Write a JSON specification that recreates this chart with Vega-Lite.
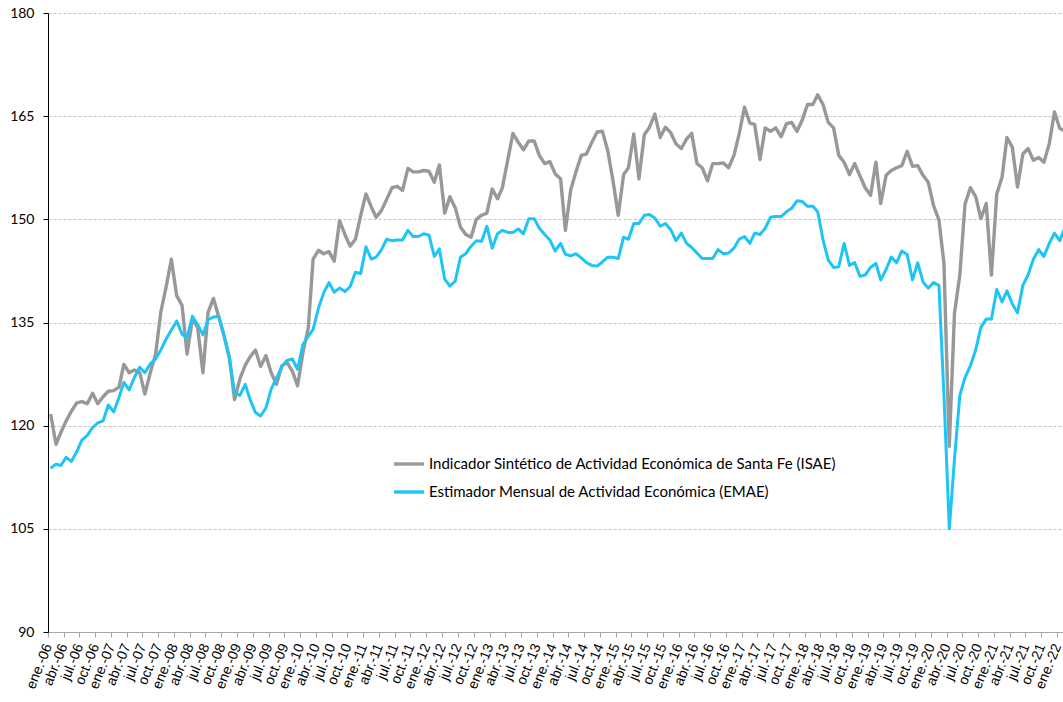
{
  "$schema": "https://vega.github.io/schema/vega-lite/v6.json",
  "width": 1015,
  "height": 619,
  "autosize": {"type": "none"},
  "padding": {"left": 48, "top": 13, "right": 0, "bottom": 70},
  "background": "#ffffff",
  "config": {"view": {"stroke": null}},
  "data": {"values": [
    {"fecha":"2006-01","isae":121.7,"emae":113.8},{"fecha":"2006-02","isae":117.3,"emae":114.4},{"fecha":"2006-03","isae":119.0,"emae":114.2},{"fecha":"2006-04","isae":120.7,"emae":115.4},{"fecha":"2006-05","isae":122.1,"emae":114.8},{"fecha":"2006-06","isae":123.3,"emae":116.2},{"fecha":"2006-07","isae":123.5,"emae":117.9},{"fecha":"2006-08","isae":123.2,"emae":118.6},{"fecha":"2006-09","isae":124.7,"emae":119.7},{"fecha":"2006-10","isae":123.2,"emae":120.4},{"fecha":"2006-11","isae":124.2,"emae":120.7},{"fecha":"2006-12","isae":125.0,"emae":123.0},
    {"fecha":"2007-01","isae":125.1,"emae":122.0},{"fecha":"2007-02","isae":125.6,"emae":124.1},{"fecha":"2007-03","isae":128.9,"emae":126.3},{"fecha":"2007-04","isae":127.7,"emae":125.2},{"fecha":"2007-05","isae":128.1,"emae":127.0},{"fecha":"2007-06","isae":127.7,"emae":128.5},{"fecha":"2007-07","isae":124.6,"emae":127.7},{"fecha":"2007-08","isae":127.7,"emae":129.0},{"fecha":"2007-09","isae":130.4,"emae":129.7},{"fecha":"2007-10","isae":136.5,"emae":131.0},{"fecha":"2007-11","isae":140.2,"emae":132.6},{"fecha":"2007-12","isae":144.2,"emae":133.9},
    {"fecha":"2008-01","isae":138.9,"emae":135.2},{"fecha":"2008-02","isae":137.5,"emae":133.3},{"fecha":"2008-03","isae":130.4,"emae":132.8},{"fecha":"2008-04","isae":135.5,"emae":135.9},{"fecha":"2008-05","isae":134.3,"emae":134.7},{"fecha":"2008-06","isae":127.7,"emae":133.2},{"fecha":"2008-07","isae":136.5,"emae":135.4},{"fecha":"2008-08","isae":138.5,"emae":135.8},{"fecha":"2008-09","isae":135.8,"emae":135.9},{"fecha":"2008-10","isae":133.1,"emae":133.1},{"fecha":"2008-11","isae":129.9,"emae":129.9},{"fecha":"2008-12","isae":123.8,"emae":124.8},
    {"fecha":"2009-01","isae":126.8,"emae":124.4},{"fecha":"2009-02","isae":128.8,"emae":126.0},{"fecha":"2009-03","isae":130.0,"emae":123.8},{"fecha":"2009-04","isae":131.0,"emae":121.9},{"fecha":"2009-05","isae":128.6,"emae":121.4},{"fecha":"2009-06","isae":130.2,"emae":122.6},{"fecha":"2009-07","isae":127.7,"emae":125.3},{"fecha":"2009-08","isae":126.0,"emae":126.9},{"fecha":"2009-09","isae":128.7,"emae":128.6},{"fecha":"2009-10","isae":129.2,"emae":129.5},{"fecha":"2009-11","isae":127.9,"emae":129.7},{"fecha":"2009-12","isae":125.8,"emae":128.2},
    {"fecha":"2010-01","isae":130.6,"emae":131.8},{"fecha":"2010-02","isae":134.2,"emae":133.0},{"fecha":"2010-03","isae":144.2,"emae":134.0},{"fecha":"2010-04","isae":145.5,"emae":137.1},{"fecha":"2010-05","isae":145.0,"emae":139.3},{"fecha":"2010-06","isae":145.3,"emae":140.8},{"fecha":"2010-07","isae":143.9,"emae":139.4},{"fecha":"2010-08","isae":149.8,"emae":140.0},{"fecha":"2010-09","isae":147.8,"emae":139.5},{"fecha":"2010-10","isae":146.1,"emae":140.2},{"fecha":"2010-11","isae":147.1,"emae":142.3},{"fecha":"2010-12","isae":150.5,"emae":142.1},
    {"fecha":"2011-01","isae":153.7,"emae":146.0},{"fecha":"2011-02","isae":151.8,"emae":144.2},{"fecha":"2011-03","isae":150.3,"emae":144.5},{"fecha":"2011-04","isae":151.3,"emae":145.6},{"fecha":"2011-05","isae":152.9,"emae":147.1},{"fecha":"2011-06","isae":154.6,"emae":146.9},{"fecha":"2011-07","isae":154.8,"emae":147.0},{"fecha":"2011-08","isae":154.2,"emae":147.0},{"fecha":"2011-09","isae":157.4,"emae":148.4},{"fecha":"2011-10","isae":156.9,"emae":147.5},{"fecha":"2011-11","isae":156.9,"emae":147.5},{"fecha":"2011-12","isae":157.1,"emae":147.9},
    {"fecha":"2012-01","isae":157.0,"emae":147.7},{"fecha":"2012-02","isae":155.4,"emae":144.6},{"fecha":"2012-03","isae":157.9,"emae":145.7},{"fecha":"2012-04","isae":150.9,"emae":141.3},{"fecha":"2012-05","isae":153.3,"emae":140.3},{"fecha":"2012-06","isae":151.7,"emae":141.0},{"fecha":"2012-07","isae":148.9,"emae":144.5},{"fecha":"2012-08","isae":147.8,"emae":145.0},{"fecha":"2012-09","isae":147.4,"emae":146.1},{"fecha":"2012-10","isae":150.0,"emae":146.9},{"fecha":"2012-11","isae":150.6,"emae":146.8},{"fecha":"2012-12","isae":150.9,"emae":149.0},
    {"fecha":"2013-01","isae":154.4,"emae":145.8},{"fecha":"2013-02","isae":153.0,"emae":147.9},{"fecha":"2013-03","isae":154.6,"emae":148.4},{"fecha":"2013-04","isae":158.6,"emae":148.1},{"fecha":"2013-05","isae":162.5,"emae":148.1},{"fecha":"2013-06","isae":161.2,"emae":148.6},{"fecha":"2013-07","isae":160.1,"emae":147.9},{"fecha":"2013-08","isae":161.4,"emae":150.1},{"fecha":"2013-09","isae":161.4,"emae":150.1},{"fecha":"2013-10","isae":159.3,"emae":148.7},{"fecha":"2013-11","isae":158.1,"emae":147.8},{"fecha":"2013-12","isae":158.4,"emae":147.0},
    {"fecha":"2014-01","isae":156.6,"emae":145.4},{"fecha":"2014-02","isae":155.9,"emae":146.5},{"fecha":"2014-03","isae":148.4,"emae":144.9},{"fecha":"2014-04","isae":154.3,"emae":144.7},{"fecha":"2014-05","isae":156.9,"emae":145.0},{"fecha":"2014-06","isae":159.3,"emae":144.4},{"fecha":"2014-07","isae":159.5,"emae":143.7},{"fecha":"2014-08","isae":161.2,"emae":143.3},{"fecha":"2014-09","isae":162.7,"emae":143.2},{"fecha":"2014-10","isae":162.8,"emae":143.8},{"fecha":"2014-11","isae":160.0,"emae":144.5},{"fecha":"2014-12","isae":155.7,"emae":144.5},
    {"fecha":"2015-01","isae":150.6,"emae":144.3},{"fecha":"2015-02","isae":156.5,"emae":147.4},{"fecha":"2015-03","isae":157.5,"emae":147.1},{"fecha":"2015-04","isae":162.4,"emae":149.4},{"fecha":"2015-05","isae":155.9,"emae":149.4},{"fecha":"2015-06","isae":162.3,"emae":150.6},{"fecha":"2015-07","isae":163.4,"emae":150.7},{"fecha":"2015-08","isae":165.3,"emae":150.2},{"fecha":"2015-09","isae":161.9,"emae":149.0},{"fecha":"2015-10","isae":163.4,"emae":149.4},{"fecha":"2015-11","isae":162.6,"emae":148.5},{"fecha":"2015-12","isae":161.0,"emae":146.9},
    {"fecha":"2016-01","isae":160.3,"emae":148.0},{"fecha":"2016-02","isae":161.7,"emae":146.5},{"fecha":"2016-03","isae":162.5,"emae":145.9},{"fecha":"2016-04","isae":158.1,"emae":145.1},{"fecha":"2016-05","isae":157.5,"emae":144.3},{"fecha":"2016-06","isae":155.6,"emae":144.3},{"fecha":"2016-07","isae":158.1,"emae":144.3},{"fecha":"2016-08","isae":158.1,"emae":145.6},{"fecha":"2016-09","isae":158.2,"emae":145.0},{"fecha":"2016-10","isae":157.5,"emae":145.1},{"fecha":"2016-11","isae":159.3,"emae":145.8},{"fecha":"2016-12","isae":162.4,"emae":147.1},
    {"fecha":"2017-01","isae":166.3,"emae":147.5},{"fecha":"2017-02","isae":164.0,"emae":146.5},{"fecha":"2017-03","isae":163.8,"emae":148.0},{"fecha":"2017-04","isae":158.7,"emae":147.8},{"fecha":"2017-05","isae":163.3,"emae":148.7},{"fecha":"2017-06","isae":162.8,"emae":150.3},{"fecha":"2017-07","isae":163.3,"emae":150.4},{"fecha":"2017-08","isae":162.0,"emae":150.4},{"fecha":"2017-09","isae":163.9,"emae":151.1},{"fecha":"2017-10","isae":164.1,"emae":151.6},{"fecha":"2017-11","isae":162.8,"emae":152.7},{"fecha":"2017-12","isae":164.4,"emae":152.6},
    {"fecha":"2018-01","isae":166.7,"emae":151.9},{"fecha":"2018-02","isae":166.7,"emae":151.9},{"fecha":"2018-03","isae":168.1,"emae":151.1},{"fecha":"2018-04","isae":166.7,"emae":147.0},{"fecha":"2018-05","isae":164.1,"emae":144.1},{"fecha":"2018-06","isae":163.3,"emae":143.0},{"fecha":"2018-07","isae":159.3,"emae":143.1},{"fecha":"2018-08","isae":158.3,"emae":146.5},{"fecha":"2018-09","isae":156.5,"emae":143.3},{"fecha":"2018-10","isae":158.1,"emae":143.7},{"fecha":"2018-11","isae":156.3,"emae":141.7},{"fecha":"2018-12","isae":154.6,"emae":141.9},
    {"fecha":"2019-01","isae":153.5,"emae":143.0},{"fecha":"2019-02","isae":158.3,"emae":143.6},{"fecha":"2019-03","isae":152.3,"emae":141.2},{"fecha":"2019-04","isae":156.4,"emae":142.7},{"fecha":"2019-05","isae":157.1,"emae":144.5},{"fecha":"2019-06","isae":157.5,"emae":143.7},{"fecha":"2019-07","isae":157.8,"emae":145.4},{"fecha":"2019-08","isae":159.9,"emae":144.9},{"fecha":"2019-09","isae":157.7,"emae":141.2},{"fecha":"2019-10","isae":157.8,"emae":143.7},{"fecha":"2019-11","isae":156.4,"emae":140.9},{"fecha":"2019-12","isae":155.4,"emae":140.0},
    {"fecha":"2020-01","isae":152.0,"emae":140.8},{"fecha":"2020-02","isae":149.9,"emae":140.4},{"fecha":"2020-03","isae":143.6,"emae":124.5},{"fecha":"2020-04","isae":117.0,"emae":105.0},{"fecha":"2020-05","isae":136.3,"emae":115.1},{"fecha":"2020-06","isae":141.9,"emae":124.4},{"fecha":"2020-07","isae":152.2,"emae":127.0},{"fecha":"2020-08","isae":154.6,"emae":128.7},{"fecha":"2020-09","isae":153.3,"emae":131.0},{"fecha":"2020-10","isae":150.1,"emae":134.3},{"fecha":"2020-11","isae":152.3,"emae":135.5},{"fecha":"2020-12","isae":141.9,"emae":135.5},
    {"fecha":"2021-01","isae":153.7,"emae":139.8},{"fecha":"2021-02","isae":156.2,"emae":138.0},{"fecha":"2021-03","isae":161.9,"emae":139.6},{"fecha":"2021-04","isae":160.5,"emae":137.7},{"fecha":"2021-05","isae":154.7,"emae":136.4},{"fecha":"2021-06","isae":159.5,"emae":140.4},{"fecha":"2021-07","isae":160.3,"emae":141.9},{"fecha":"2021-08","isae":158.6,"emae":144.2},{"fecha":"2021-09","isae":159.0,"emae":145.6},{"fecha":"2021-10","isae":158.3,"emae":144.6},{"fecha":"2021-11","isae":161.0,"emae":146.5},{"fecha":"2021-12","isae":165.6,"emae":148.0},
    {"fecha":"2022-01","isae":163.2,"emae":146.9},{"fecha":"2022-02","isae":162.8,"emae":148.9}
  ]},
  "encoding": {
    "x": {
      "field": "fecha",
      "type": "temporal",
      "scale": {
        "type": "utc",
        "domain": [
          {"year": 2005, "month": 12, "date": 16, "hours": 18, "utc": true},
          {"year": 2022, "month": 1, "date": 19, "hours": 12, "utc": true}
        ]
      },
      "axis": {
        "title": null,
        "grid": false,
        "tickCount": {"interval": "month", "step": 3},
        "labelExpr": "['ene.','feb.','mar.','abr.','may.','jun.','jul.','ago.','sep.','oct.','nov.','dic.'][utcmonth(datum.value)] + '-' + utcFormat(datum.value, '%y')",
        "labelAngle": -68,
        "labelAlign": "right",
        "labelBaseline": "middle",
        "labelFont": "Liberation Sans",
        "labelFontSize": 14,
        "labelColor": "#000000",
        "labelOverlap": false,
        "labelFlush": false,
        "labelPadding": 7,
        "tickOffset": -2.63,
        "tickSize": 5,
        "tickColor": "#a6a6a6",
        "domainColor": "#a6a6a6",
        "domainWidth": 1
      }
    }
  },
  "layer": [
    {
      "mark": {"type": "line", "strokeWidth": 3.4, "strokeJoin": "round", "clip": true},
      "encoding": {
        "y": {
          "field": "isae",
          "type": "quantitative",
          "scale": {"domain": [90, 180], "nice": false, "zero": false},
          "axis": {
            "title": null,
            "values": [90, 105, 120, 135, 150, 165, 180],
            "grid": true,
            "gridDash": [3, 2],
            "gridColor": "#c4c4c4",
            "gridWidth": 1,
            "domainColor": "#000000",
            "domainWidth": 1,
            "tickColor": "#000000",
            "tickSize": 5,
            "labelFont": "Lato",
            "labelFontSize": 14,
            "labelColor": "#000000",
            "labelPadding": 9
          }
        },
        "color": {
          "datum": "Indicador Sintético de Actividad Económica de Santa Fe (ISAE)",
          "type": "nominal",
          "scale": {
            "domain": ["Indicador Sintético de Actividad Económica de Santa Fe (ISAE)", "Estimador Mensual de Actividad Económica (EMAE)"],
            "range": ["#989898", "#1dc5f7"]
          },
          "legend": {
            "title": null,
            "orient": "none",
            "legendX": 344,
            "legendY": 434,
            "padding": 0,
            "direction": "vertical",
            "symbolType": "stroke",
            "symbolSize": 900,
            "symbolStrokeWidth": 3.4,
            "rowPadding": 3,
            "labelOffset": 3,
            "labelFont": "Lato",
            "labelFontSize": 15,
            "labelColor": "#000000",
            "labelLimit": 0
          }
        }
      }
    },
    {
      "mark": {"type": "line", "strokeWidth": 3, "strokeJoin": "round", "clip": true},
      "encoding": {
        "y": {"field": "emae", "type": "quantitative"},
        "color": {"datum": "Estimador Mensual de Actividad Económica (EMAE)", "type": "nominal"}
      }
    }
  ]
}
